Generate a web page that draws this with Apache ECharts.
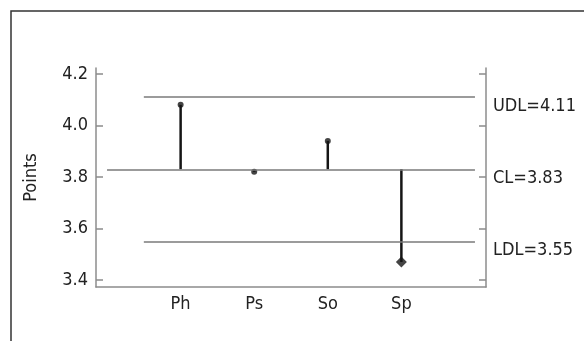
<!DOCTYPE html>
<html>
<head>
<meta charset="utf-8">
<script src="https://cdn.jsdelivr.net/npm/echarts@6/dist/echarts.min.js"></script>
<style>
  html, body { margin: 0; padding: 0; background: #fff; }
  #chart { width: 584px; height: 341px; }
</style>
</head>
<body>
<div id="chart"></div>
<script>
// Group means compared against the centre line and decision limits
const categories = ['Ph', 'Ps', 'So', 'Sp'];
const means = [4.08, 3.82, 3.94, 3.47];
const limitNames = ['UDL', 'CL', 'LDL'];
const limitValues = [4.11, 3.83, 3.55];
const yTicks = [3.4, 3.6, 3.8, 4.0, 4.2];

const FONT = '"Liberation Sans Narrow", "DejaVu Sans Condensed", "Roboto Condensed", sans-serif';
const TEXT = '#222';
const AXIS = '#8c8c8c';

const centre = limitValues[limitNames.indexOf('CL')];
const lower = limitValues[limitNames.indexOf('LDL')];
const xs = categories.map((c, i) => i + 1);

const limitLines = limitNames.map((n, i) => {
  const start = n === 'CL' ? 0 : 0.5;
  return [{ coord: [start, limitValues[i]] }, { coord: [5, limitValues[i]] }];
});

const chart = echarts.init(document.getElementById('chart'), null, { renderer: 'canvas' });
chart.setOption({
  animation: false,
  backgroundColor: '#fff',
  textStyle: { fontFamily: FONT },
  graphic: [
    { type: 'polyline', shape: { points: [[11, 341], [11, 11], [584, 11]] },
      style: { stroke: '#333', lineWidth: 1.5, fill: null } }
  ],
  grid: { left: 96, right: 98, top: 68, bottom: 54 },
  xAxis: {
    type: 'value', min: -0.15, max: 5.15,
    axisLine: { show: true, onZero: false, lineStyle: { color: AXIS, width: 1.5 } },
    axisTick: { show: false },
    splitLine: { show: false },
    axisLabel: {
      customValues: xs,
      formatter: v => categories[Math.round(v) - 1] || '',
      color: TEXT, fontSize: 18, fontFamily: FONT, margin: 8
    }
  },
  yAxis: [
    {
      type: 'value', min: 3.373, max: 4.223, position: 'left',
      name: 'Points', nameLocation: 'middle', nameRotate: 90, nameGap: 56,
      nameTextStyle: { color: TEXT, fontSize: 18, fontFamily: FONT },
      axisLine: { show: true, onZero: false, lineStyle: { color: AXIS, width: 1.5 } },
      axisTick: { show: true, inside: true, length: 7, customValues: yTicks, lineStyle: { color: AXIS, width: 1.5 } },
      splitLine: { show: false },
      axisLabel: {
        customValues: yTicks,
        formatter: v => v.toFixed(1),
        color: TEXT, fontSize: 18, fontFamily: FONT, margin: 8
      }
    },
    {
      type: 'value', min: 3.373, max: 4.223, position: 'right',
      axisLine: { show: true, onZero: false, lineStyle: { color: AXIS, width: 1.5 } },
      axisTick: { show: true, inside: true, length: 7, customValues: yTicks, lineStyle: { color: AXIS, width: 1.5 } },
      splitLine: { show: false },
      axisLabel: {
        customValues: limitValues,
        formatter: v => {
          const i = limitValues.findIndex(l => Math.abs(l - v) < 1e-6);
          return i >= 0 ? limitNames[i] + '=' + limitValues[i].toFixed(2) : '';
        },
        verticalAlign: 'top',
        color: TEXT, fontSize: 18, fontFamily: FONT, margin: 7
      }
    }
  ],
  series: [
    {
      // centre line and decision limits
      type: 'line', data: [], silent: true,
      markLine: {
        symbol: 'none', silent: true, animation: false,
        label: { show: false },
        lineStyle: { color: '#7a7a7a', width: 1.5, type: 'solid' },
        data: limitLines
      }
    },
    {
      // stems from the centre line to each mean
      type: 'custom', silent: true,
      data: xs.map((x, i) => [x, means[i]]),
      renderItem: (params, api) => {
        const a = api.coord([api.value(0), centre]);
        const b = api.coord([api.value(0), api.value(1)]);
        return { type: 'line', shape: { x1: a[0], y1: a[1], x2: b[0], y2: b[1] },
                 style: { stroke: '#151515', lineWidth: 2.5 } };
      }
    },
    {
      type: 'scatter', silent: true,
      itemStyle: { color: '#151515' },
      data: xs.map((x, i) => {
        const out = means[i] < lower;
        return { value: [x, means[i]], symbol: out ? 'diamond' : 'circle', symbolSize: out ? 11 : 6 };
      })
    }
  ]
});
</script>
</body>
</html>
